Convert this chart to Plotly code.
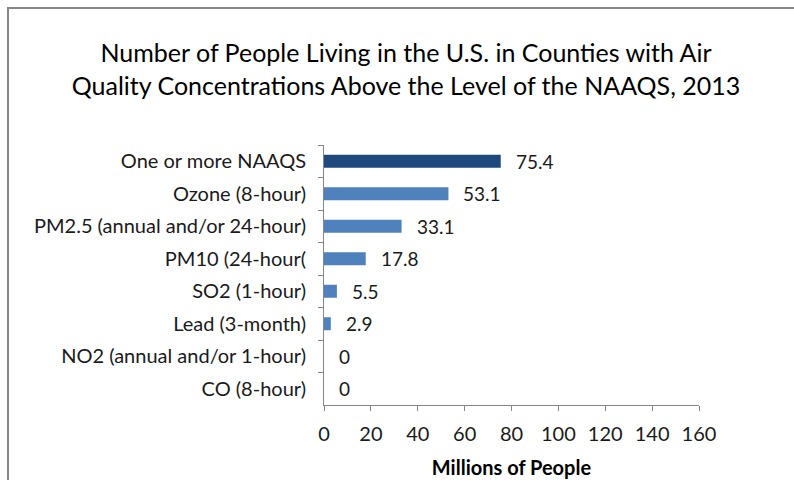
import plotly.graph_objects as go

categories = ["One or more NAAQS", "Ozone (8-hour)", "PM2.5 (annual and/or 24-hour)",
              "PM10 (24-hour(", "SO2 (1-hour)", "Lead (3-month)",
              "NO2 (annual and/or 1-hour)", "CO (8-hour)"]
values = [75.4, 53.1, 33.1, 17.8, 5.5, 2.9, 0, 0]
labels = ["75.4", "53.1", "33.1", "17.8", "5.5", "2.9", "0", "0"]
bar_colors = ["#1F497D"] + ["#4F81BD"] * 7
x_ticks = [0, 20, 40, 60, 80, 100, 120, 140, 160]

FONT = "Lato"
W, H = 794, 480
ml, mr, mt, mb = 324, 95, 145, 75

fig = go.Figure(go.Bar(
    x=values, y=categories, orientation="h",
    marker=dict(color=bar_colors, line=dict(width=0)),
    width=0.4,
))

for c, v, t in zip(categories, values, labels):
    fig.add_annotation(x=v, y=c, text=t, showarrow=False, xanchor="left",
                       xshift=13, font=dict(family=FONT, size=19, color="#1a1a1a"))

pw = W - ml - mr
ph = H - mt - mb
def px(x):
    return (x - ml) / pw
def py(y):
    return 1 - (y - mt) / ph

# outer chart border (top and left visible)
fig.add_shape(type="line", xref="paper", yref="paper", x0=px(7), x1=px(800),
              y0=py(8), y1=py(8), line=dict(color="#868686", width=2))
fig.add_shape(type="line", xref="paper", yref="paper", x0=px(8), x1=px(8),
              y0=py(7), y1=py(490), line=dict(color="#868686", width=2))

fig.update_layout(
    width=W, height=H,
    margin=dict(l=ml, r=mr, t=mt, b=mb, autoexpand=False),
    paper_bgcolor="white", plot_bgcolor="white",
    showlegend=False,
    title=dict(
        text="Number of People Living in the U.S. in Counties with Air<br>Quality Concentrations Above the Level of the NAAQS, 2013",
        x=406 / W, xanchor="center", y=1 - 62 / H, yanchor="middle",
        font=dict(family=FONT, size=25, color="#000000"),
    ),
    xaxis=dict(
        range=[0, 160], tickvals=x_ticks, ticktext=[str(t) for t in x_ticks],
        showgrid=False, zeroline=False, showline=True, linecolor="#868686", linewidth=1,
        ticks="outside", ticklen=5, tickcolor="#868686",
        tickfont=dict(family=FONT, size=20, color="#1a1a1a"),
        ticklabelstandoff=6, automargin=False,
        title=dict(text="<b>Millions of People</b>", font=dict(family=FONT, size=20, color="#000000"), standoff=16),
        fixedrange=True,
    ),
    yaxis=dict(
        categoryorder="array", categoryarray=categories, autorange="reversed",
        showgrid=False, zeroline=False, showline=True, linecolor="#868686", linewidth=1,
        ticks="outside", ticklen=5, tickcolor="#868686", tickson="boundaries",
        tickfont=dict(family=FONT, size=20, color="#1a1a1a"),
        ticklabelstandoff=13, automargin=False,
        fixedrange=True,
    ),
)

fig.write_html("out.html")
